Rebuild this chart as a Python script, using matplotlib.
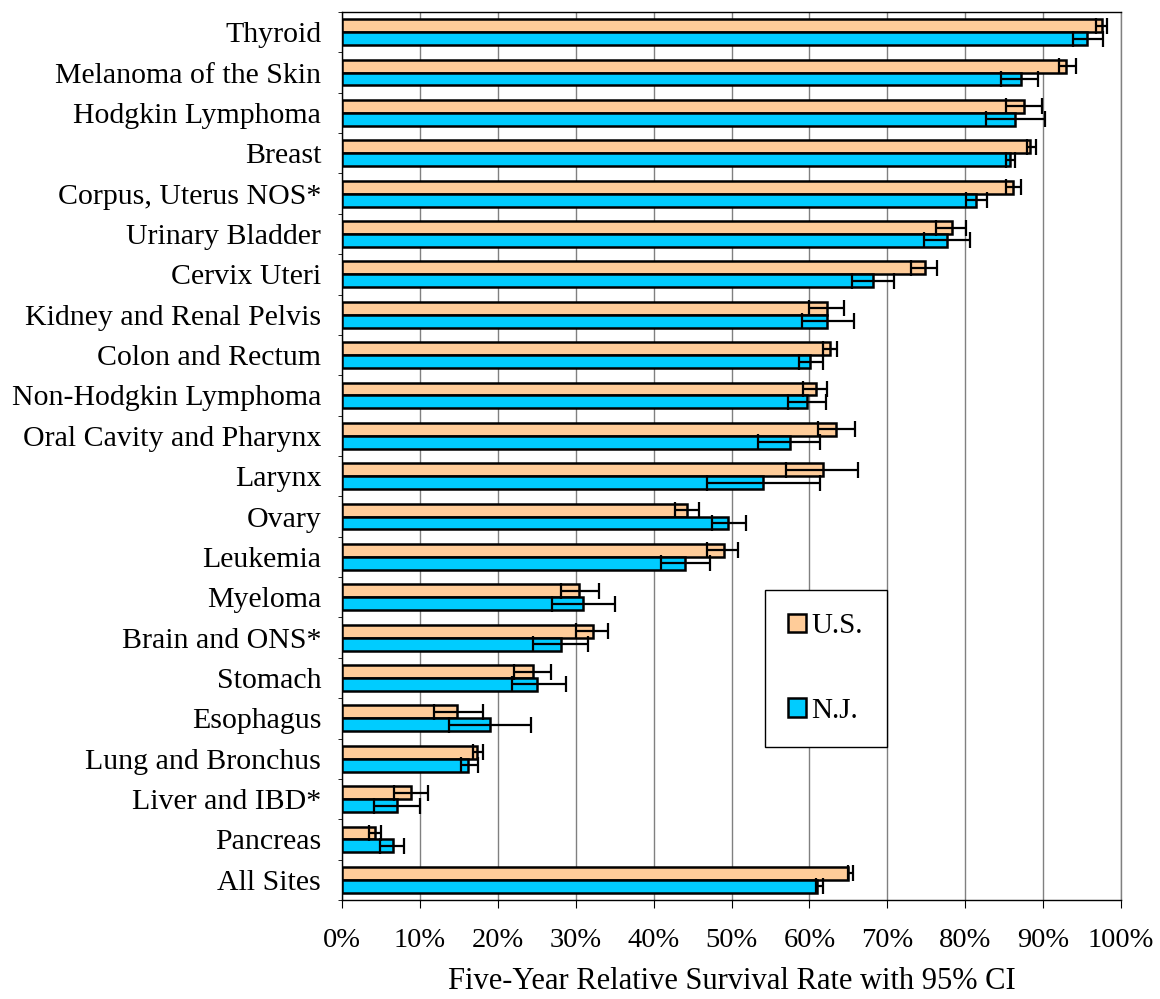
import numpy as np
import matplotlib
matplotlib.use("Agg")
import matplotlib.pyplot as plt
from matplotlib.ticker import FuncFormatter, MultipleLocator

plt.rcParams['font.family'] = ['Liberation Serif', 'DejaVu Serif']

# categories, top to bottom
sites = ["Thyroid", "Melanoma of the Skin", "Hodgkin Lymphoma", "Breast",
         "Corpus, Uterus NOS*", "Urinary Bladder", "Cervix Uteri",
         "Kidney and Renal Pelvis", "Colon and Rectum", "Non-Hodgkin Lymphoma",
         "Oral Cavity and Pharynx", "Larynx", "Ovary", "Leukemia", "Myeloma",
         "Brain and ONS*", "Stomach", "Esophagus", "Lung and Bronchus",
         "Liver and IBD*", "Pancreas", "All Sites"]

# U.S. rate and 95% CI
us_rate = [97.5, 92.9, 87.6, 88.3, 86.1, 78.3, 74.9, 62.3, 62.6, 60.8, 63.4,
           61.7, 44.3, 49.0, 30.4, 32.2, 24.5, 14.8, 17.3, 8.9, 4.3, 65.0]
us_lo = [96.8, 92.0, 85.2, 87.9, 85.2, 76.2, 73.1, 59.9, 61.7, 59.2, 61.1,
         57.0, 42.8, 46.9, 28.1, 30.0, 22.1, 11.8, 16.8, 6.7, 3.5, 64.9]
us_hi = [98.2, 94.2, 89.9, 89.1, 87.1, 80.1, 76.4, 64.5, 63.5, 62.3, 65.8,
         66.3, 45.8, 50.8, 33.0, 34.2, 26.8, 18.1, 18.1, 11.0, 5.0, 65.6]

# N.J. rate and 95% CI
nj_rate = [95.6, 87.1, 86.4, 85.8, 81.4, 77.7, 68.2, 62.3, 60.1, 59.7, 57.5,
           54.0, 49.6, 44.0, 31.0, 28.1, 25.0, 19.0, 16.2, 7.1, 6.5, 61.0]
nj_lo = [93.8, 84.6, 82.7, 85.2, 80.1, 74.7, 65.5, 59.0, 58.7, 57.3, 53.4,
         46.9, 47.5, 41.0, 26.9, 24.5, 21.8, 13.7, 15.3, 4.1, 4.9, 60.8]
nj_hi = [97.7, 89.4, 90.3, 86.4, 82.8, 80.6, 70.9, 65.7, 61.7, 62.1, 61.4,
         61.4, 51.9, 47.2, 35.1, 31.6, 28.7, 24.3, 17.4, 10.0, 8.0, 61.8]

us_rate, us_lo, us_hi = map(np.array, (us_rate, us_lo, us_hi))
nj_rate, nj_lo, nj_hi = map(np.array, (nj_rate, nj_lo, nj_hi))

W, H = 1160, 999
fig = plt.figure(figsize=(W / 100, H / 100), dpi=100)
ax = fig.add_axes([342 / W, 1 - 900 / H, (1121 - 342) / W, (900 - 12) / H])

y = np.arange(len(sites))
h = 0.32
err_kw = dict(ecolor='black', elinewidth=1.6, capsize=6, capthick=1.6)

ax.barh(y - h / 2, us_rate, height=h, color='#FFCC99', edgecolor='black',
        linewidth=1.8, label='U.S.', zorder=3,
        xerr=[us_rate - us_lo, us_hi - us_rate], error_kw=err_kw)
ax.barh(y + h / 2, nj_rate, height=h, color='#00CCFF', edgecolor='black',
        linewidth=1.8, label='N.J.', zorder=3,
        xerr=[nj_rate - nj_lo, nj_hi - nj_rate], error_kw=err_kw)

ax.set_xlim(0, 100)
ax.set_ylim(len(sites) - 0.5, -0.5)
ax.xaxis.set_major_locator(MultipleLocator(10))
ax.xaxis.set_major_formatter(FuncFormatter(lambda v, p: f"{v:.0f}%"))
ax.grid(axis='x', color='#808080', linewidth=1, zorder=0)

ax.set_yticks(y)
ax.set_yticklabels(sites)
ax.set_yticks(np.arange(len(sites) + 1) - 0.5, minor=True)
ax.tick_params(axis='y', which='major', length=0, pad=15, labelsize=21.5)
ax.tick_params(axis='y', which='minor', length=3, direction='out')
ax.tick_params(axis='x', length=6, direction='out', pad=14, labelsize=20.5)

for s in ax.spines.values():
    s.set_linewidth(1)
ax.spines['right'].set_color('#808080')

ax.set_xlabel("Five-Year Relative Survival Rate with 95% CI", fontsize=22,
              labelpad=10)

leg = ax.legend(loc='upper left', bbox_to_anchor=(765 / W, 1 - 590 / H),
                bbox_transform=fig.transFigure, fancybox=False,
                edgecolor='black', framealpha=1, fontsize=21,
                handlelength=0.6, handleheight=0.6, handletextpad=0.2,
                labelspacing=2.0, borderpad=0.8, borderaxespad=0)
leg.get_frame().set_linewidth(1)

fig.savefig("out.png", dpi=100)
